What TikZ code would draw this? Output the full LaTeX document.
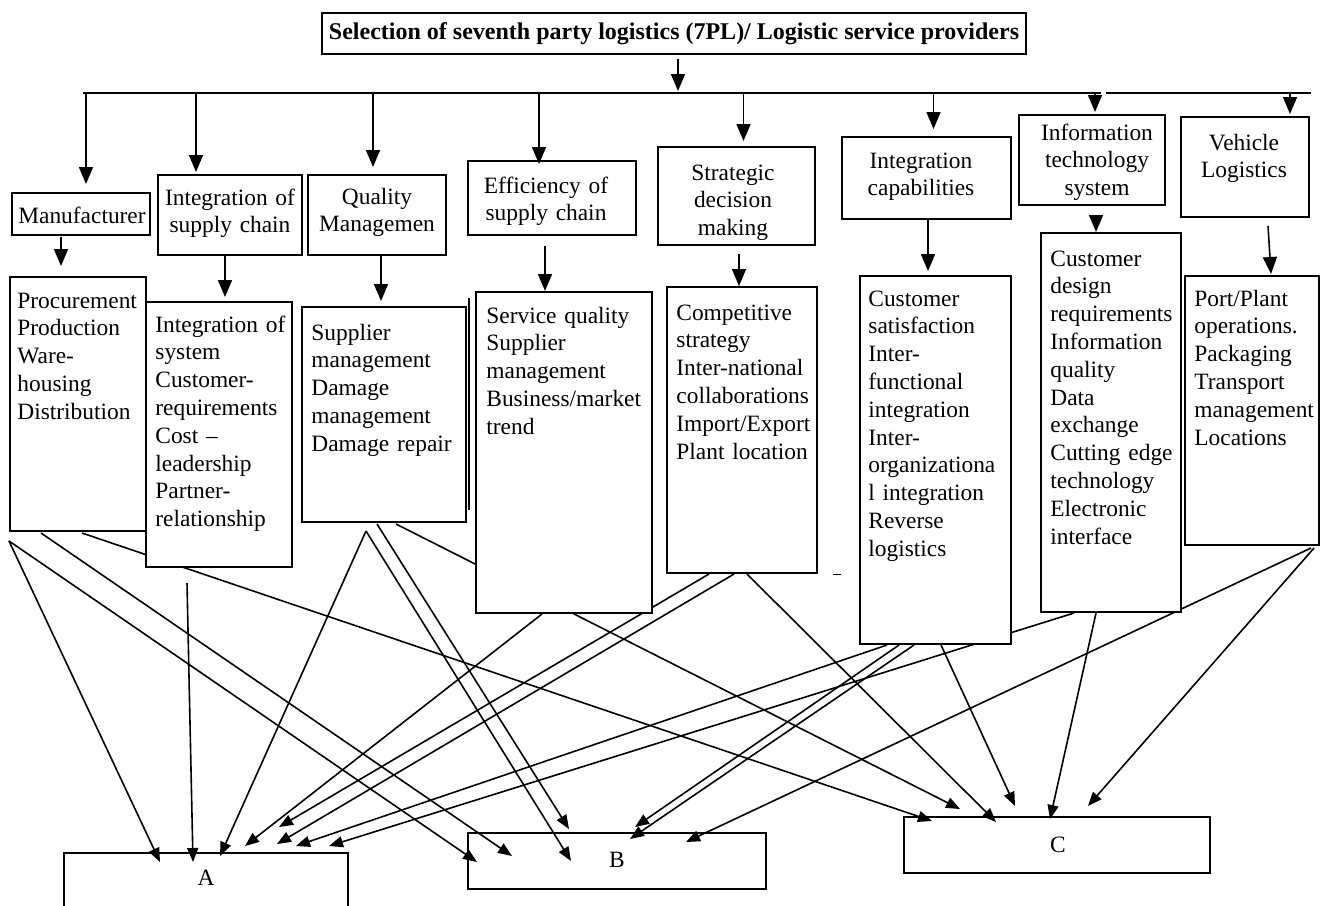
\documentclass[tikz,border=0pt]{standalone}
\usepackage{fontspec}
\setmainfont{Liberation Serif}
\usetikzlibrary{arrows.meta}
\usetikzlibrary{calc}
\usetikzlibrary{fit}
\usetikzlibrary{backgrounds}

\begin{document}
\begin{tikzpicture}[x=0.5pt, y=-0.5pt,
    box/.style={draw, fill=white, line width=1pt, inner sep=0pt},
    endbox/.style={draw, line width=1pt, inner sep=0pt},
    txt/.style={anchor=base west, inner sep=0pt, text width=100pt, align=left,
      font=\fontsize{11.7}{13.9}\selectfont},
    ctxt/.style={txt, anchor=base, align=center},
    drop/.style={-{Triangle[length=8.5pt, width=7pt]}, line width=0.8pt},
    link/.style={-{Triangle[length=7pt, width=5.5pt]}, line width=0.8pt}]
    \useasboundingbox (0,0) rectangle (1320,905);

    % Titel
    \node[box, fit={(322,13) (1026,54)}] (title) {};
    \node[anchor=base, inner sep=0pt, font=\fontsize{12}{14}\selectfont\bfseries] (titletxt) at (674,39)
      {Selection of seventh party logistics (7PL)/ Logistic service providers};

    % Verteiler
    \coordinate (busw) at (83,93);
    \coordinate (buse) at (1311,93);
    \draw[line width=1pt] (busw) -- (1101,93) (1106,93) -- (buse);
    \draw[drop] ($(title.south)+(4,4)$) -- ($(title.south)+(4,36)$);

    % Kriterien
    \node[box, fit={(12,193) (150,235)}] (manu) {};
    \node[box, fit={(158,175) (302,255)}] (intsc) {};
    \node[box, fit={(308,175) (446,255)}] (qual) {};
    \node[box, fit={(468,161) (636,235)}] (effi) {};
    \node[box, fit={(658,147) (815,245)}] (strat) {};
    \node[box, fit={(842,137) (1011,219)}] (intcap) {};
    \node[box, fit={(1019,115) (1165,205)}] (infot) {};
    \node[box, fit={(1181,117) (1309,217)}] (vehi) {};

    \node[ctxt] (manutxt) at (82,223) {Manufacturer};
    \node[ctxt] (intsctxt) at (230,205) {Integration of\\supply chain};
    \node[ctxt] (qualtxt) at (377,204) {Quality\\Managemen};
    \node[ctxt] (effitxt) at (546,193) {Efficiency of\\supply chain};
    \node[ctxt] (strattxt) at (733,180) {Strategic\\decision\\making};
    \node[ctxt] (intcaptxt) at (921,168) {Integration\\capabilities};
    \node[ctxt] (infottxt) at (1097,140) {Information\\technology\\system};
    \node[ctxt] (vehitxt) at (1244,150) {Vehicle\\Logistics};

    \foreach \b/\dx/\dy in {manu/5/-8, intsc/-34/-2, qual/-4/-7, effi/-13/4,
        strat/7/-5, intcap/7/-7, infot/3/-2, vehi/45/-2} {
      \path ($(\b.north)+(\dx,\dy)$) coordinate (t);
      \draw[drop] (busw -| t) -- (t);
    }

    % Einzelheiten
    \node[box, fit={(10,277) (146,531)}] (proc) {};
    \node[box, fit={(146,302) (292,567)}] (intsys) {};
    \node[box, fit={(302,307) (466,522)}] (suppl) {};
    \node[box, fit={(476,292) (652,613)}] (serv) {};
    \node[box, fit={(667,287) (817,573)}] (compet) {};
    \node[box, fit={(860,276) (1011,644)}] (custsat) {};
    \node[box, fit={(1041,233) (1181,612)}] (custdes) {};
    \node[box, fit={(1185,276) (1319,545)}] (port) {};

    \node[txt] (proctxt) at (17,308) {Procurement\\Production\\Ware-\\housing\\Distribution};
    \node[txt] (intsystxt) at (155,332) {Integration of\\system\\Customer-\\requirements\\Cost --\\leadership\\Partner-\\relationship};
    \node[txt] (suppltxt) at (311,340) {Supplier\\management\\Damage\\management\\Damage repair};
    \node[txt] (servtxt) at (486,323) {Service quality\\Supplier\\management\\Business/market\\trend};
    \node[txt] (competxt) at (676,320) {Competitive\\strategy\\Inter-national\\collaborations\\Import/Export\\Plant location};
    \node[txt] (custsattxt) at (868,306) {Customer\\satisfaction\\Inter-\\functional\\integration\\Inter-\\organizationa\\l integration\\Reverse\\logistics};
    \node[txt] (custdestxt) at (1050,266) {Customer\\design\\requirements\\Information\\quality\\Data\\exchange\\Cutting edge\\technology\\Electronic\\interface};
    \node[txt] (porttxt) at (1194,306) {Port/Plant\\operations.\\Packaging\\Transport\\management\\Locations};

    \draw[line width=1.3pt] ($(suppl.north east)+(2,-8)$) -- ($(suppl.south east)+(2,-13)$);
    \draw ($(compet.south east)+(15,0)$) -- +(8,0);

    \foreach \u/\ux/\uy/\l/\lx/\ly in {manu/50/1/proc/52/-10, intsc/68/0/intsys/80/-4,
        qual/74/0/suppl/80/-5, effi/78/10/serv/70/0, strat/82/8/compet/73/0,
        intcap/87/0/custsat/69/-4, infot/78/10/custdes/56/0, vehi/88/8/port/87/-1}
      \draw[drop] ($(\u.south west)+(\ux,\uy)$) -- ($(\l.north west)+(\lx,\ly)$);

    % Ziele
    \begin{scope}
      \clip (0,0) rectangle (1320,905);
      \node[endbox, fit={(64,853) (348,915)}] (A) {};
    \end{scope}
    \node[endbox, fit={(468,833) (766,889)}] (B) {};
    \node[endbox, fit={(904,817) (1210,873)}] (C) {};
    \node[ctxt] (Atxt) at (206,885) {A};
    \node[ctxt] (Btxt) at (617,867) {B};
    \node[ctxt] (Ctxt) at (1058,852) {C};

    \begin{scope}[on background layer]
      \foreach \s/\sa/\sx/\sy/\t/\tx/\ty in {
          proc/south west/0/9/A/97/10, intsys/south west/42/15/A/130/10,
          suppl/south west/65/8/A/157/4, serv/south west/67/0/A/182/-6,
          compet/south west/43/0/A/216/-25, compet/south west/68/0/A/214/-8,
          custsat/south west/28/0/A/233/-6, custdes/south west/34/0/A/266/-6,
          proc/south west/0/9/B/10/30, proc/south west/32/1/B/45/24,
          suppl/south west/65/8/B/104/29, suppl/south west/76/1/B/102/-3,
          custsat/south west/40/0/B/168/-5, custsat/south west/55/0/B/163/7,
          port/south east/-9/2/B/219/10,
          proc/south west/73/1/C/29/5, suppl/south west/95/1/C/57/-7,
          compet/south west/81/0/C/93/6, custsat/south west/82/0/C/112/-10,
          custdes/south west/56/0/C/147/3, port/south east/-6/2/C/185/-10}
        \draw[link] ($(\s.\sa)+(\sx,\sy)$) -- ($(\t.north west)+(\tx,\ty)$);
    \end{scope}
\end{tikzpicture}
\end{document}
